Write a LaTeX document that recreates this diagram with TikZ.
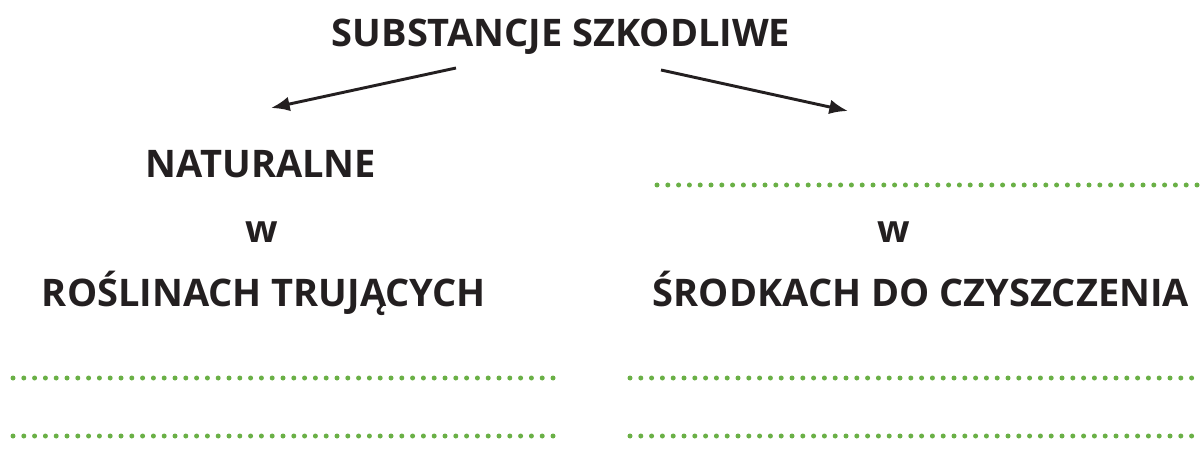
\documentclass[tikz,border=0pt]{standalone}
\usepackage{fontspec}
\setmainfont{Open Sans}
\usetikzlibrary{arrows.meta}
\definecolor{dotgreen}{RGB}{106,176,70}
\definecolor{inkblack}{RGB}{35,31,32}
\tikzset{
  lbl/.style={font=\bfseries\fontsize{28.5}{32}\selectfont, text=inkblack, inner sep=0pt, anchor=base},
  dotline/.style={dotgreen, line width=3.75pt, line cap=round, dash pattern=on 0pt off 8.1pt},
  arr/.style={inkblack, line width=2.2pt, -{Latex[length=14pt,width=11pt]}}
}
\begin{document}
\begin{tikzpicture}[x=0.75pt,y=-0.75pt]
\useasboundingbox (0,0) rectangle (1201,470);
\node[lbl] (title) at (561,47) {SUBSTANCJE SZKODLIWE};
\node[lbl] (nat) at (261,178) {NATURALNE};
\node[lbl] (wl) at (262,243) {w};
\node[lbl] (wr) at (894,243) {w};
\node[lbl] (rosl) at (264,306) {ROŚLINACH TRUJĄCYCH};
\node[lbl] (srod) at (921,306) {ŚRODKACH DO CZYSZCZENIA};
\coordinate (a1s) at (456,68);
\coordinate (a1e) at (271,108);
\coordinate (a2s) at (661,70);
\coordinate (a2e) at (848,111);
\draw[arr] (a1s) -- (a1e);
\draw[arr] (a2s) -- (a2e);
\coordinate (t1) at (657,185); \coordinate (t2) at (1201,185);
\coordinate (l1a) at (13,378); \coordinate (l1b) at (555,378);
\coordinate (l2a) at (13,436); \coordinate (l2b) at (555,436);
\coordinate (r1a) at (630,378); \coordinate (r1b) at (1201,378);
\coordinate (r2a) at (630,436); \coordinate (r2b) at (1201,436);
\draw[dotline] (t1) -- (t2);
\draw[dotline] (l1a) -- (l1b);
\draw[dotline] (l2a) -- (l2b);
\draw[dotline] (r1a) -- (r1b);
\draw[dotline] (r2a) -- (r2b);
\end{tikzpicture}
\end{document}
